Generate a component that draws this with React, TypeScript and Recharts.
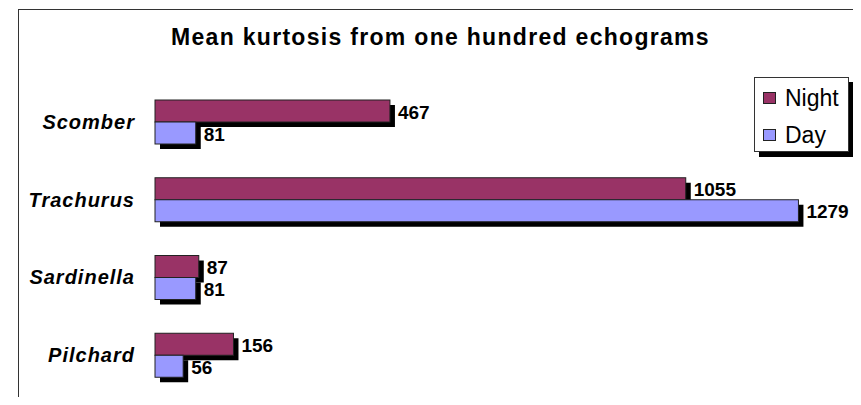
import { BarChart, Bar, XAxis, YAxis, LabelList } from "recharts";

const species = ["Scomber", "Trachurus", "Sardinella", "Pilchard"];
const night = [467, 1055, 87, 156];
const day = [81, 1279, 81, 56];
const seriesNames = ["Night", "Day"];
const colors = ["#993366", "#9999FF"];

const data = species.map((name, i) => ({ name, Night: night[i], Day: day[i] }));

const font = "'Liberation Sans', Arial, Helvetica, sans-serif";

const ShadowBar = (props: any) => {
  const { x, y, width, height, fill } = props;
  if (!width || width <= 0) return null;
  return (
    <g>
      <rect x={x + 5} y={y + 5} width={width} height={height} fill="#000" />
      <rect x={x} y={y} width={width} height={height} fill={fill} stroke="#222" strokeWidth={1} />
    </g>
  );
};

const ValueLabel = (props: any) => {
  const { x, y, width, height, value } = props;
  return (
    <text
      x={x + width + 8}
      y={y + height / 2 + 1}
      dominantBaseline="central"
      fontFamily={font}
      fontWeight="bold"
      fontSize={19}
      fill="#000"
    >
      {value}
    </text>
  );
};

const SpeciesTick = (props: any) => {
  const { x, y, payload } = props;
  return (
    <text
      x={x}
      y={y}
      textAnchor="end"
      dominantBaseline="central"
      fontFamily={font}
      fontWeight="bold"
      fontStyle="italic"
      fontSize={20}
      letterSpacing={1}
      fill="#000"
    >
      {payload.value}
    </text>
  );
};

export default function App() {
  return (
    <div
      style={{
        position: "relative",
        width: 861,
        height: 405,
        margin: -8,
        overflow: "hidden",
        background: "#fff",
        fontFamily: font,
      }}
    >
      <div
        style={{
          position: "absolute",
          left: 18,
          top: 9,
          width: 839,
          height: 420,
          border: "1px solid #333",
        }}
      />
      <div
        style={{
          position: "absolute",
          left: 0,
          width: 861,
          top: 24,
          textAlign: "center",
          paddingLeft: 20,
          boxSizing: "border-box",
          fontSize: 23,
          fontWeight: "bold",
          letterSpacing: 1.3,
          lineHeight: "26px",
        }}
      >
        Mean kurtosis from one hundred echograms
      </div>
      <div style={{ position: "absolute", left: 0, top: 0 }}>
        <BarChart
          width={861}
          height={405}
          data={data}
          layout="vertical"
          margin={{ top: 83, right: 52, bottom: 11, left: 0 }}
          barSize={22}
          barGap={0}
        >
          <XAxis type="number" domain={[0, 1300]} hide />
          <YAxis
            type="category"
            dataKey="name"
            width={155}
            axisLine={false}
            tickLine={false}
            tickSize={0}
            tickMargin={20}
            tick={<SpeciesTick />}
          />
          {seriesNames.map((s, i) => (
            <Bar key={s} dataKey={s} fill={colors[i]} shape={<ShadowBar />} isAnimationActive={false}>
              <LabelList dataKey={s} content={<ValueLabel />} />
            </Bar>
          ))}
        </BarChart>
      </div>
      <div
        style={{
          position: "absolute",
          left: 754,
          top: 77,
          width: 95,
          height: 75,
          boxSizing: "border-box",
          border: "1px solid #333",
          background: "#fff",
          boxShadow: "5px 5px 0 #000",
        }}
      >
        {seriesNames.map((s, i) => (
          <div
            key={s}
            style={{
              position: "absolute",
              left: 8,
              top: 6 + i * 37,
              display: "flex",
              alignItems: "center",
              fontSize: 23,
              lineHeight: "28px",
            }}
          >
            <span
              style={{
                display: "inline-block",
                width: 13,
                height: 12,
                boxSizing: "border-box",
                background: colors[i],
                border: "1px solid #222",
                marginRight: 9,
              }}
            />
            {s}
          </div>
        ))}
      </div>
    </div>
  );
}
